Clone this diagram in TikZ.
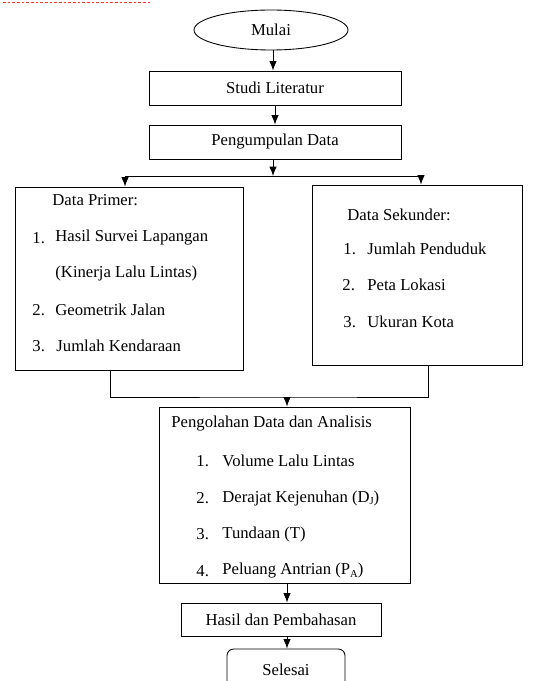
\documentclass[tikz,border=0pt]{standalone}
\usepackage{fontspec}
\setmainfont{Liberation Serif}
\usetikzlibrary{shapes.geometric, arrows.meta}

\begin{document}
\begin{tikzpicture}[x=0.75pt, y=-0.75pt, line width=0.65pt, >={Latex[length=7pt,width=5.5pt]},
    font=\fontsize{12.5}{15}\selectfont]
    \tikzstyle{every node}=[align = center]
    \tikzstyle{box} = [draw, rectangle, inner sep=0pt]
    \tikzstyle{item} = [anchor=west, inner sep=0pt]
    \useasboundingbox (0,0) rectangle (534,681);
    \draw[red!80, line width=0.6pt, dash pattern=on 2pt off 1.5pt] (3,2) -- (152,2);

    % kotak utama
    \node[draw, ellipse, minimum width=115.5pt, minimum height=30pt, inner sep=0pt] (mulai) at (271,30) {Mulai};
    \node[box, minimum width=189pt, minimum height=25.5pt] (studi) at (275,88) {Studi Literatur};
    \node[box, minimum width=189pt, minimum height=25.5pt] (kumpul) at (275,142) {Pengumpulan Data};
    \node[box, minimum width=171pt, minimum height=137.25pt] (primer) at (129,278.5) {};
    \node[box, minimum width=157.5pt, minimum height=135pt] (sekunder) at (417,275) {};
    \node[box, minimum width=188.25pt, minimum height=132pt] (olah) at (284.5,495) {};
    \node[box, minimum width=150pt, minimum height=24.75pt] (hasil) at (281,619.5) {Hasil dan Pembahasan};
    \node[box, rounded corners=5pt, minimum width=88.5pt, minimum height=31.5pt] (selesai) at (286,670) {Selesai};

    % data primer
    \node[item] (prTitle) at (52,200) {Data Primer:};
    \node[item] (prN1) at (32,238) {1.};
    \node[item] (pr1) at (55,238) {Hasil Survei Lapangan};
    \node[item] (pr1b) at (55,273) {(Kinerja Lalu Lintas)};
    \node[item] (prN2) at (32,310) {2.};
    \node[item] (pr2) at (55,310) {Geometrik Jalan};
    \node[item] (prN3) at (32,346) {3.};
    \node[item] (pr3) at (56,346) {Jumlah Kendaraan};

    % data sekunder
    \node[item] (skTitle) at (347,215) {Data Sekunder:};
    \node[item] (skN1) at (343,249) {1.};
    \node[item] (sk1) at (367,249) {Jumlah Penduduk};
    \node[item] (skN2) at (342,285) {2.};
    \node[item] (sk2) at (367,285) {Peta Lokasi};
    \node[item] (skN3) at (343,322) {3.};
    \node[item] (sk3) at (367,322) {Ukuran Kota};

    % pengolahan data
    \node[item] (olTitle) at (171,424) {Pengolahan Data dan Analisis};
    \node[item] (olN1) at (196,461) {1.};
    \node[item] (ol1) at (222,461) {Volume Lalu Lintas};
    \node[item] (olN2) at (196,498) {2.};
    \node[item] (ol2) at (222,498) {Derajat Kejenuhan (D{\fontsize{8}{8}\selectfont\raisebox{-2pt}{J}})};
    \node[item] (olN3) at (196,534) {3.};
    \node[item] (ol3) at (222,534) {Tundaan (T)};
    \node[item] (olN4) at (196,571) {4.};
    \node[item] (ol4) at (222,571) {Peluang Antrian (P{\fontsize{8}{8}\selectfont\raisebox{-2pt}{A}})};

    % panah
    \coordinate (split) at (273,176);
    \coordinate (merge) at (287,397);
    \draw[->] (mulai.south -| 273,0) -- (studi.north -| 273,0);
    \draw[->] (studi.south -| 275,0) -- (kumpul.north -| 275,0);
    \draw[->] (kumpul.south -| split) -- (split);
    \draw[->] (split) -| ([xshift=-3pt]primer.north);
    \draw[->] (split) -| ([xshift=3pt]sekunder.north);
    \draw ([xshift=-14.25pt]primer.south) |- (merge) -| ([xshift=8.25pt]sekunder.south);
    \draw[->] (merge) -- (merge |- olah.north);
    \draw[->] (olah.south -| merge) -- (hasil.north -| merge);
    \draw[->] (hasil.south -| merge) -- (selesai.north -| merge);
\end{tikzpicture}
\end{document}
